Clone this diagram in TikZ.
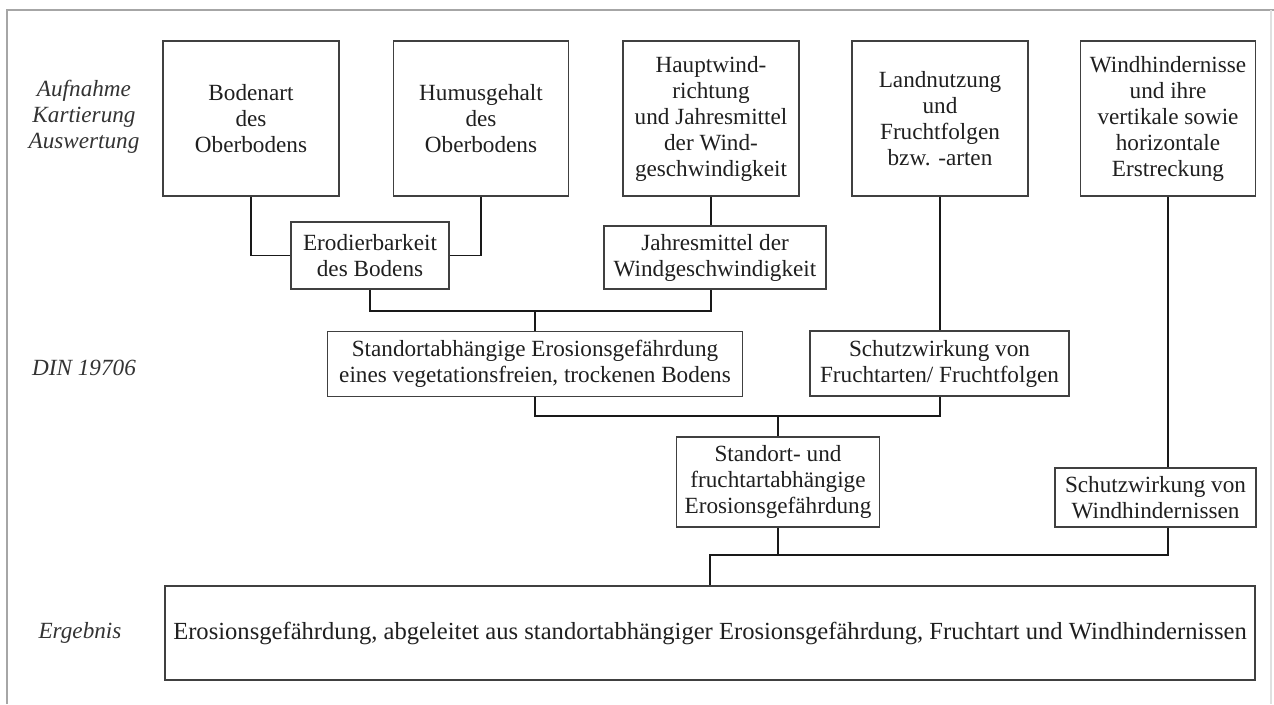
\documentclass[tikz,border=0pt]{standalone}
\usepackage{fontspec}
\setmainfont{Liberation Serif}
\begin{document}
\begin{tikzpicture}[x=0.02cm,y=-0.02cm,
  every node/.style={font=\fontsize{13.2pt}{14.8pt}\selectfont, text=black!88, align=center, inner sep=0pt},
  box/.style={draw=black!75, line width=0.7pt},
  lbl/.style={font=\fontsize{13.2pt}{14.8pt}\selectfont\itshape, text=black!80},
  conn/.style={draw=black!90, line width=1.1pt}]
\useasboundingbox (0,0) rectangle (1274,704);
% frame
\draw[black!35, line width=0.6pt] (7,704) -- (7,10) -- (1274,10);
\draw[black!12, line width=0.6pt] (1271,10) -- (1271,704);
% labels
\node[lbl] (l1) at (84,117) {Aufnahme\\Kartierung\\Auswertung};
\node[lbl] (l2) at (84,368) {DIN 19706};
\node[lbl] (l3) at (80,633) {Ergebnis};
% top boxes
\node[box, minimum width=176*0.02cm, minimum height=155*0.02cm] (b1) at (251,118.5) {Bodenart\\des\\Oberbodens};
\node[box, minimum width=175*0.02cm, minimum height=155*0.02cm] (b2) at (481,118.5) {Humusgehalt\\des\\Oberbodens};
\node[box, minimum width=176*0.02cm, minimum height=155*0.02cm] (b3) at (711,118.5) {Hauptwind-\\richtung\\und Jahresmittel\\der Wind-\\geschwindigkeit};
\node[box, minimum width=176*0.02cm, minimum height=155*0.02cm] (b4) at (940,118.5) {Landnutzung\\und\\Fruchtfolgen\\bzw. -arten};
\node[box, minimum width=175*0.02cm, minimum height=155*0.02cm] (b5) at (1168,118.5) {Windhindernisse\\und ihre\\vertikale sowie\\horizontale\\Erstreckung};
% second row
\node[box, minimum width=158*0.02cm, minimum height=67*0.02cm] (e) at (370,255.5) {Erodierbarkeit\\des Bodens};
\node[box, minimum width=222*0.02cm, minimum height=63*0.02cm] (j) at (715,257.5) {Jahresmittel der\\Windgeschwindigkeit};
% third row
\node[box, minimum width=415*0.02cm, minimum height=65*0.02cm] (s) at (535,364) {Standortabhängige Erosionsgefährdung\\eines vegetationsfreien, trockenen Bodens};
\node[box, minimum width=259*0.02cm, minimum height=65*0.02cm] (f) at (939.5,363.5) {Schutzwirkung von\\Fruchtarten/ Fruchtfolgen};
% fourth row
\node[box, minimum width=203*0.02cm, minimum height=90*0.02cm] (sf) at (778,482) {Standort- und\\fruchtartabhängige\\Erosionsgefährdung};
\node[box, minimum width=201*0.02cm, minimum height=59*0.02cm] (w) at (1155.5,497.5) {Schutzwirkung von\\Windhindernissen};
% result
\node[box, minimum width=1090*0.02cm, minimum height=94*0.02cm, font=\fontsize{14pt}{16pt}\selectfont] (r) at (710,633) {Erosionsgefährdung, abgeleitet aus standortabhängiger Erosionsgefährdung, Fruchtart und Windhindernissen};
% helper coordinates
\coordinate (y1) at (0,311);
\coordinate (y2) at (0,416);
\coordinate (y3) at (0,555);
% connectors
\draw[conn] (b1.south) |- (e.west);
\draw[conn] (b2.south) |- (e.east);
\draw[conn] (e.south) |- (b3.south |- y1) -- (b3.south |- j.south);
\draw[conn] (s.north) -- (s.north |- y1);
\draw[conn] (b3.south) -- (b3.south |- j.north);
\draw[conn] (b4.south) -- (b4.south |- f.north);
\draw[conn] (s.south) |- (b4.south |- y2) -- (b4.south |- f.south);
\draw[conn] (sf.north) -- (sf.north |- y2);
\draw[conn] (b5.south) -- (b5.south |- w.north);
\draw[conn] (sf.south) -- (sf.south |- y3);
\draw[conn] (b5.south |- w.south) |- (r.north |- y3) -- (r.north);
\end{tikzpicture}
\end{document}
